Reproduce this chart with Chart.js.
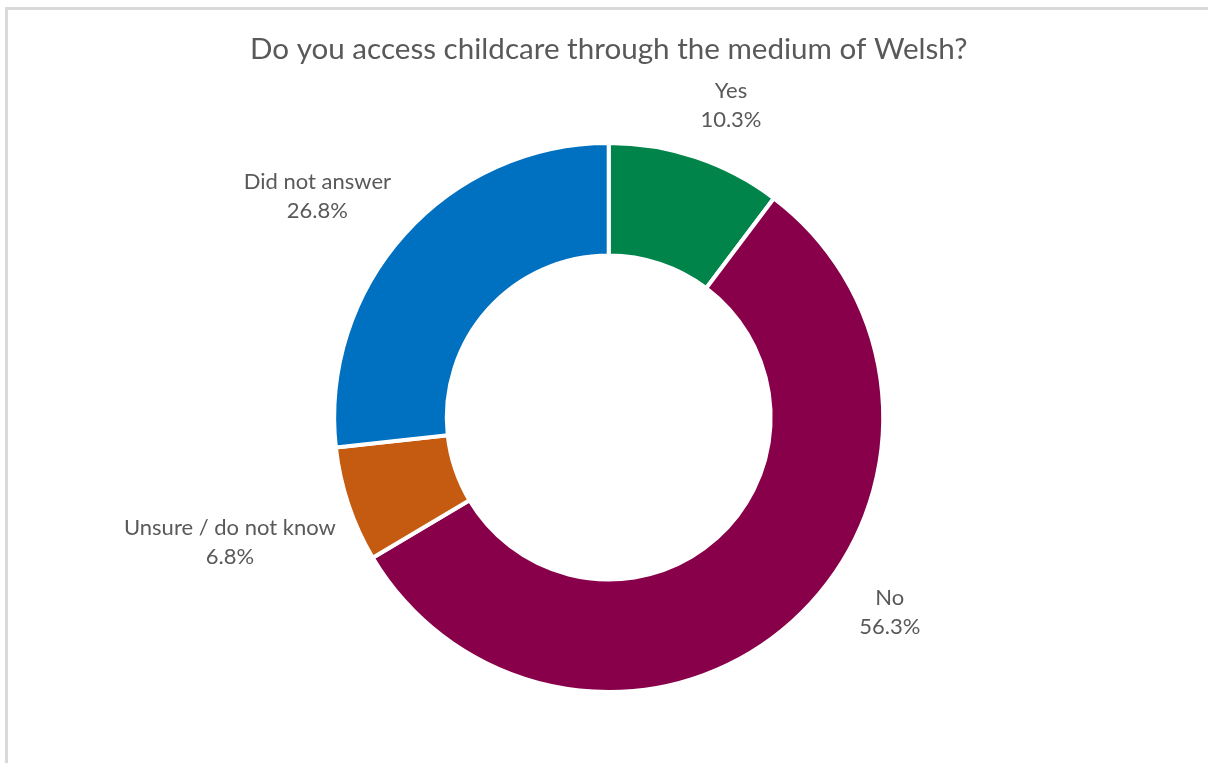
<!DOCTYPE html>
<html>
<head>
<meta charset="utf-8">
<title>Welsh-medium childcare</title>
<script src="https://cdn.jsdelivr.net/npm/chart.js@4.4.1/dist/chart.umd.min.js"></script>
<style>
    html, body { margin: 0; padding: 0; background: #fff; overflow: hidden; }
    .frame {
        position: absolute;
        left: 5px;
        top: 7px;
        width: 1400px;
        height: 900px;
        border: 3px solid #d9d9d9;
    }
    .wrap { position: absolute; left: 0; top: 0; width: 1208px; height: 763px; }
</style>
</head>
<body>
<div class="frame"></div>
<div class="wrap"><canvas id="chartWelsh" width="1208" height="763"></canvas></div>
<script>
const categories = ['Yes', 'No', 'Unsure / do not know', 'Did not answer'];
const percentages = [10.3, 56.3, 6.8, 26.8];
const sliceColours = ['#00844a', '#88004a', '#c55a11', '#0070c0'];

// label placement around the ring: angle nudge (deg) from slice middle, distance from centre
const labelPlacement = [
    { shift: 2.9, dist: 335 },
    { shift: -13.4, dist: 342 },
    { shift: 0.2, dist: 399 },
    { shift: -4.6, dist: 366 }
];

const textColour = '#595959';
const fontFamily = 'Lato, "Open Sans", sans-serif';

const outsideLabels = {
    id: 'outsideLabels',
    afterDatasetsDraw(chart) {
        const ctx = chart.ctx;
        const meta = chart.getDatasetMeta(0);
        ctx.save();
        ctx.fillStyle = textColour;
        ctx.font = '22px ' + fontFamily;
        ctx.textAlign = 'center';
        ctx.textBaseline = 'middle';
        meta.data.forEach((arc, i) => {
            const p = labelPlacement[i];
            const mid = (arc.startAngle + arc.endAngle) / 2 + p.shift * Math.PI / 180;
            const x = arc.x + Math.cos(mid) * p.dist;
            const y = arc.y + Math.sin(mid) * p.dist;
            ctx.fillText(categories[i], x, y - 14.5);
            ctx.fillText(percentages[i].toFixed(1) + '%', x, y + 14.5);
        });
        ctx.restore();
    }
};

new Chart(document.getElementById('chartWelsh'), {
    type: 'doughnut',
    data: {
        labels: categories,
        datasets: [{
            data: percentages,
            backgroundColor: sliceColours,
            borderColor: '#ffffff',
            borderWidth: 4,
            radius: 274.5,
            cutout: 164
        }]
    },
    options: {
        responsive: false,
        animation: false,
        layout: {
            padding: { left: 10, right: 0.6, top: 0, bottom: 65.5 }
        },
        plugins: {
            legend: { display: false },
            tooltip: { enabled: false },
            title: {
                display: true,
                text: 'Do you access childcare through the medium of Welsh?',
                color: textColour,
                font: { family: fontFamily, size: 29.6, weight: 'normal' },
                padding: { top: 31.2, bottom: 70.8 }
            }
        }
    },
    plugins: [outsideLabels]
});
</script>
</body>
</html>
